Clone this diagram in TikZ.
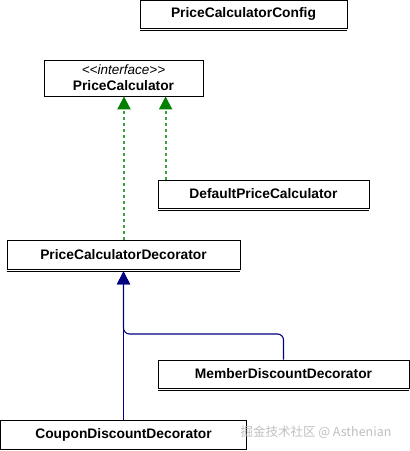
\documentclass[tikz,border=0pt]{standalone}
\usepackage{fontspec}
\setmainfont{Liberation Sans}
\newfontfamily\cjk{Noto Sans CJK SC}
\usetikzlibrary{arrows.meta}

\definecolor{implgreen}{RGB}{0,128,0}
\definecolor{dashgreen}{RGB}{60,160,60}
\definecolor{inhnavy}{RGB}{0,0,128}

\tikzset{
	cls/.style = {draw, line width=0.8pt, rectangle, inner sep=0pt, font=\fontsize{13.8}{16}\selectfont\bfseries},
	impl/.style = {draw=dashgreen, line width=1.9pt, dash pattern=on 3pt off 3pt, -{Triangle[width=13pt,length=13pt,color=implgreen,fill=implgreen]}},
	inh/.style = {draw=inhnavy, line width=1.1pt, rounded corners=6pt, -{Triangle[width=13pt,length=13pt]}},
}

\begin{document}
\begin{tikzpicture}[x=1pt, y=-1pt]
		\useasboundingbox (0,0) rectangle (410,451);
		\node (cfg) [cls, minimum width=207pt, minimum height=28pt] at (243.5,14) {PriceCalculatorConfig};
		\node (calc) [cls, minimum width=159pt, minimum height=36pt, align=center] at (123.5,78)
			{{\fontsize{13.5}{15}\selectfont\mdseries\itshape <{}<interface>{}>}\\PriceCalculator};
		\node (def) [cls, minimum width=211pt, minimum height=28pt] at (263.5,194) {DefaultPriceCalculator};
		\node (dec) [cls, minimum width=233pt, minimum height=29pt] at (123.5,254.5) {PriceCalculatorDecorator};
		\node (mem) [cls, minimum width=251pt, minimum height=28pt] at (283.5,374) {MemberDiscountDecorator};
		\node (cpn) [cls, minimum width=246pt, minimum height=29pt] at (123.5,434.5) {CouponDiscountDecorator};
		\node (wm) [text=black!25, font=\cjk\fontsize{12.5}{14}\selectfont] at (316,432) {掘金技术社区 @ Asthenian};
		\coordinate (j) at (123.5,334);
		% second line under each class box
		\foreach \n in {cfg,def,dec,mem,cpn}
			\draw[line width=0.8pt] ([yshift=-2pt]\n.south west) -- ([yshift=-2pt]\n.south east);
		\path[impl] ([xshift=0.5pt]dec.north) -- ([xshift=0.5pt]calc.south);
		\path[impl] ([xshift=8pt]def.north west) -- ([xshift=8pt]def.north west |- calc.south);
		\path[inh] (cpn) -- ([yshift=-2pt]dec.south);
		\path[inh] (mem.north) |- (j) -- ([yshift=-2pt]dec.south);
		
		
		\end{tikzpicture}
\end{document}
